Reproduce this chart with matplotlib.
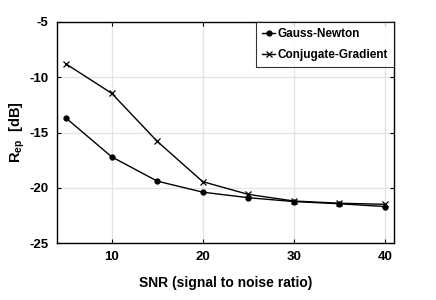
import matplotlib
matplotlib.use("Agg")
import matplotlib.pyplot as plt

snr = [5, 10, 15, 20, 25, 30, 35, 40]
gauss_newton = [-13.7, -17.2, -19.4, -20.4, -20.9, -21.25, -21.45, -21.7]
conj_gradient = [-8.8, -11.45, -15.8, -19.45, -20.6, -21.2, -21.4, -21.5]

xticks = [10, 20, 30, 40]
yticks = [-25, -20, -15, -10, -5]

plt.rcParams["font.family"] = ["Liberation Sans", "DejaVu Sans"]
plt.rcParams["font.weight"] = "bold"
plt.rcParams["axes.unicode_minus"] = False
plt.rcParams["mathtext.fontset"] = "custom"
plt.rcParams["mathtext.bf"] = "Liberation Sans:bold"
plt.rcParams["mathtext.rm"] = "Liberation Sans:bold"

fig = plt.figure(figsize=(4.36, 3.0), dpi=100)
ax = fig.add_axes([57 / 436, 1 - 243 / 300, (394 - 57) / 436, (243 - 22) / 300])

ax.plot(snr, gauss_newton, "k-", marker=".", markersize=7, linewidth=1, label="Gauss-Newton")
ax.plot(snr, conj_gradient, "k-", marker="x", markersize=4, markeredgewidth=0.9, linewidth=1, label="Conjugate-Gradient")

ax.set_xlim(4, 41)
ax.set_ylim(-25, -5)
ax.set_xticks(xticks)
ax.set_yticks(yticks)
ax.grid(True, color="#e3e3e3", linewidth=0.9)
ax.set_axisbelow(True)
ax.tick_params(direction="in", top=True, right=True, length=3, width=0.8, labelsize=9.5, pad=6)
for s in ax.spines.values():
    s.set_linewidth(1.0)

ax.set_xlabel("SNR (signal to noise ratio)", fontsize=10, fontweight="bold", labelpad=9)
ax.set_ylabel(r"R$_{\mathbf{ep}}$  [dB]", fontsize=10.5, fontweight="bold")
ax.yaxis.set_label_coords(-0.09, 0.5)

leg = ax.legend(loc="upper right", fontsize=8.5, frameon=True, fancybox=False, borderaxespad=0,
                handlelength=1.1, handletextpad=0.2, borderpad=0.5, labelspacing=0.8)
leg.get_frame().set_edgecolor("black")
leg.get_frame().set_linewidth(0.8)

fig.savefig("out.png", dpi=100)
